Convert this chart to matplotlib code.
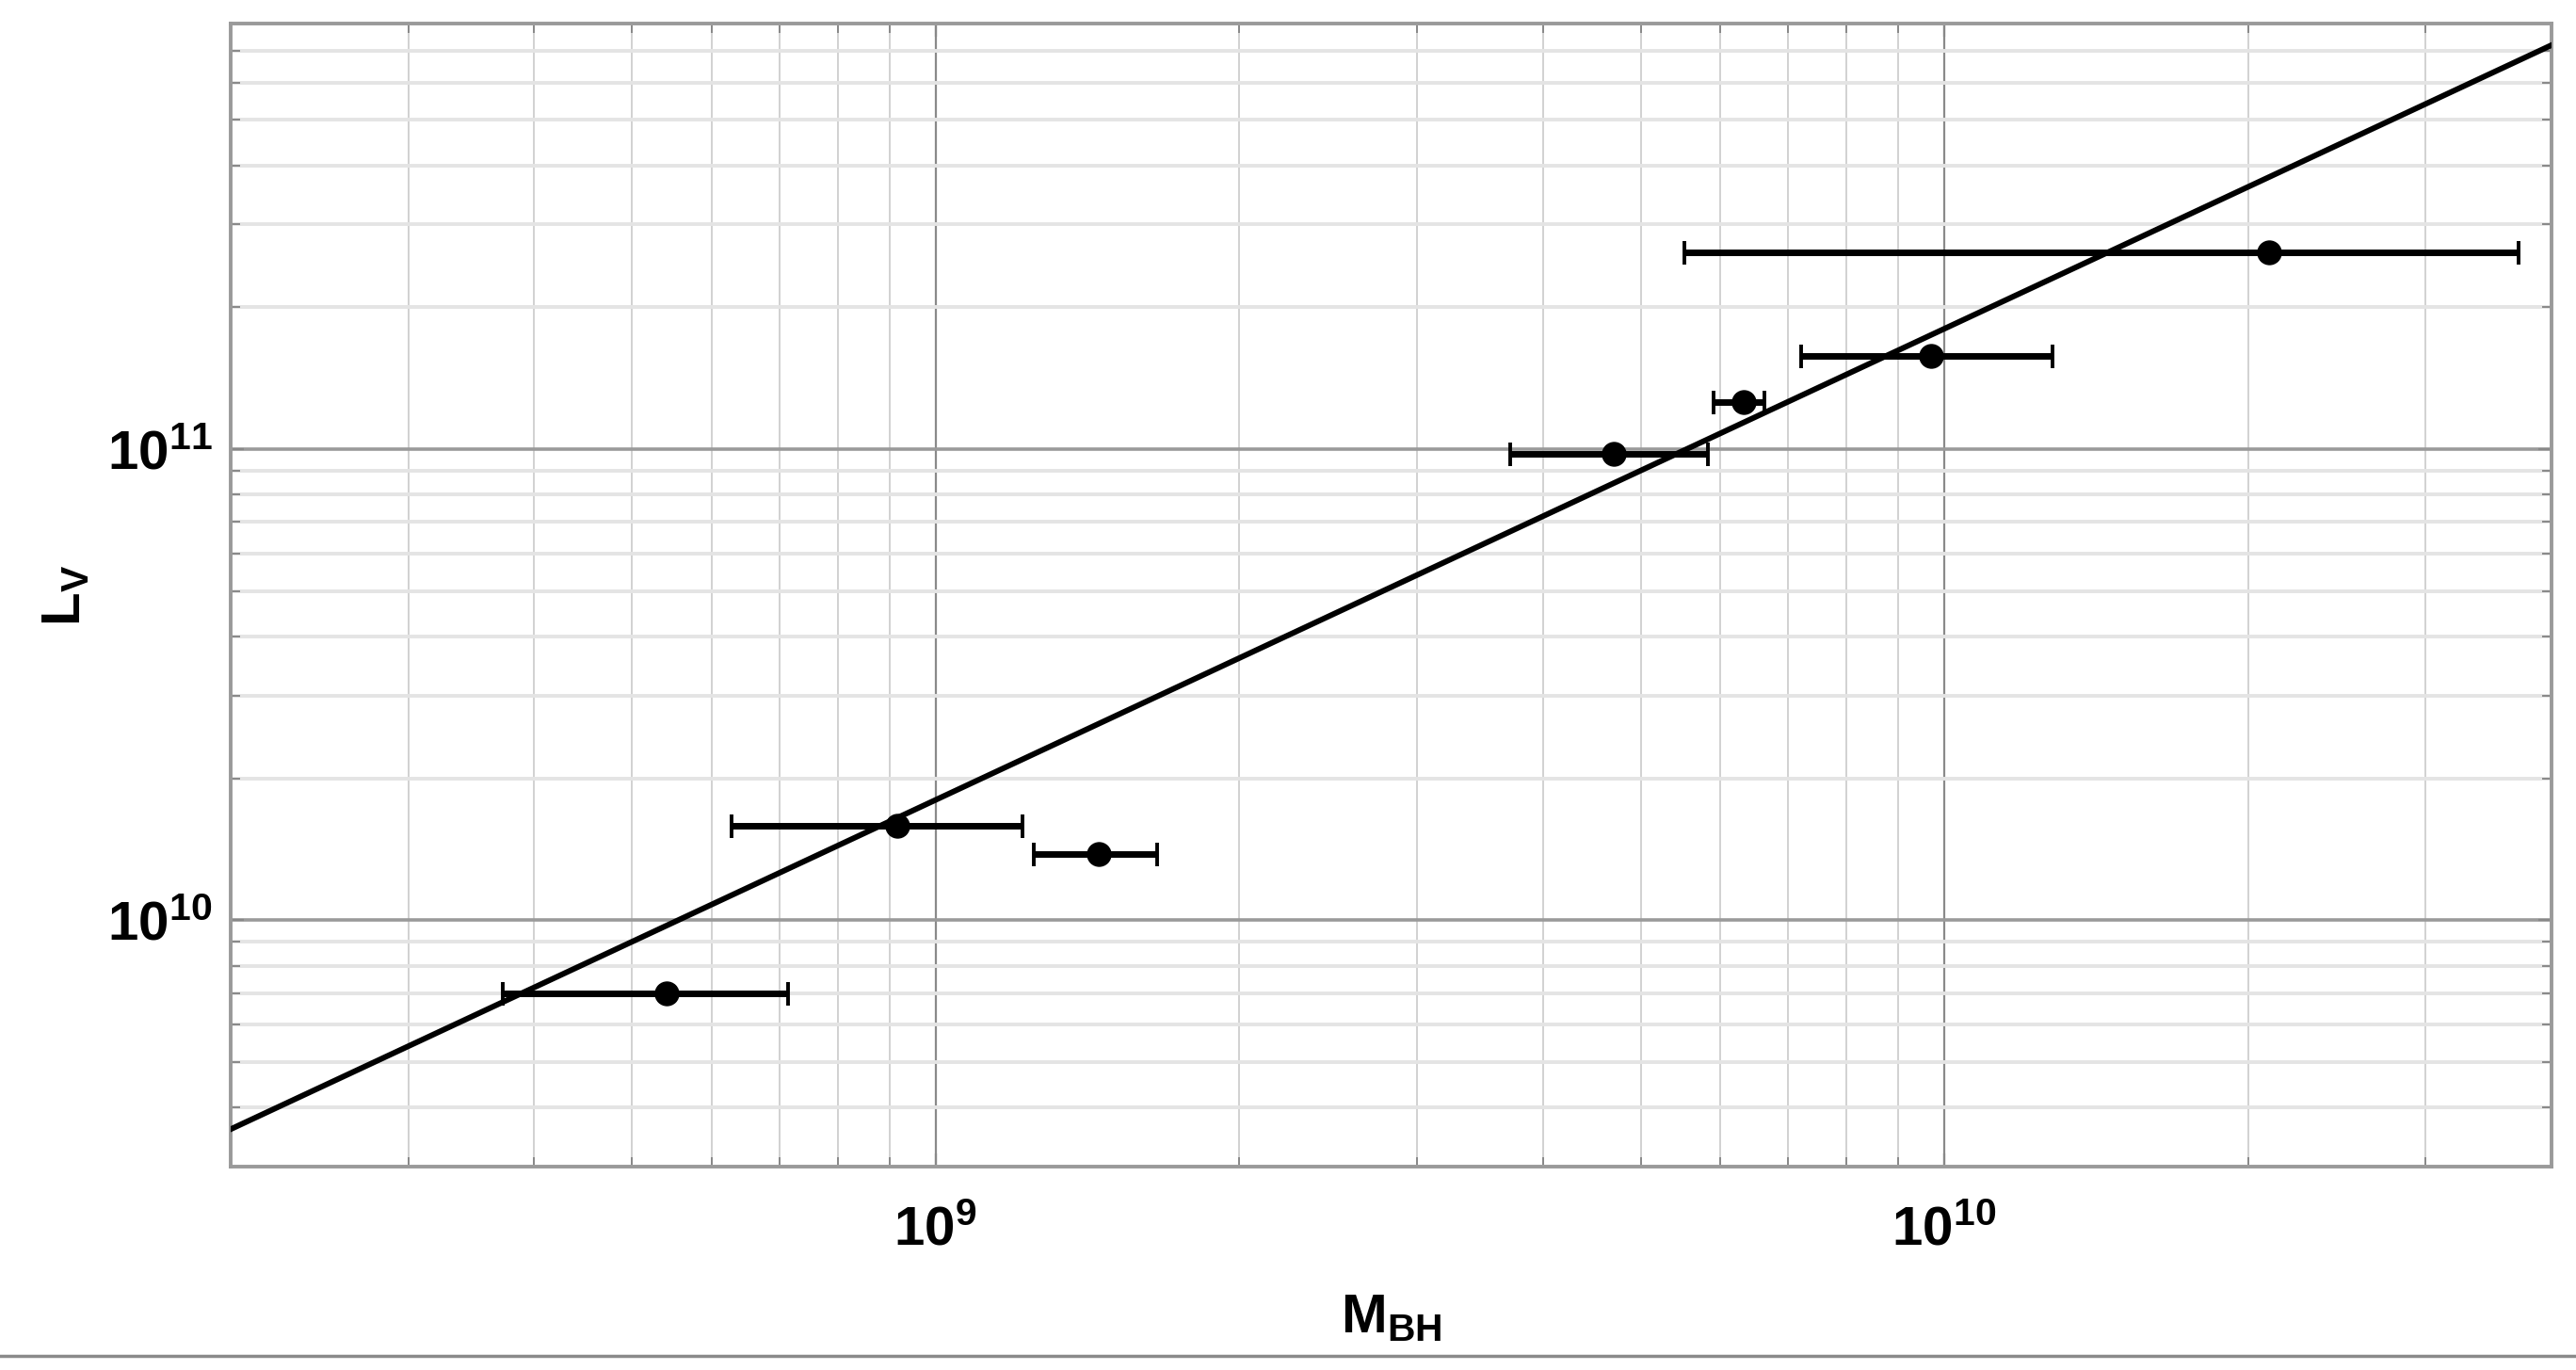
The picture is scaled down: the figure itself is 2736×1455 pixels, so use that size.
import numpy as np
import matplotlib
matplotlib.use("Agg")
import matplotlib.pyplot as plt
from matplotlib.ticker import FixedLocator, FixedFormatter, LogLocator, NullFormatter
from matplotlib.lines import Line2D

# black hole mass vs V-band luminosity
m_bh = [5.41e8, 9.17e8, 1.45e9, 4.70e9, 6.32e9, 9.70e9, 2.10e10]
m_lo = [3.72e8, 6.28e8, 1.25e9, 3.71e9, 5.90e9, 7.21e9, 5.52e9]
m_hi = [7.14e8, 1.22e9, 1.66e9, 5.83e9, 6.63e9, 1.28e10, 3.71e10]
l_v = [7.0e9, 1.59e10, 1.38e10, 9.76e10, 1.256e11, 1.58e11, 2.62e11]

# fitted relation, end points
fit_m = [2e8, 4e10]
fit_l = [3.6e9, 7.2e11]

x_ticks = [1e9, 1e10]
x_ticklabels = [r'$\mathregular{10^{9}}$', r'$\mathregular{10^{10}}$']
y_ticks = [1e10, 1e11]
y_ticklabels = [r'$\mathregular{10^{10}}$', r'$\mathregular{10^{11}}$']

plt.rcParams['font.family'] = ['Liberation Sans', 'DejaVu Sans']
plt.rcParams['font.weight'] = 'bold'
plt.rcParams['axes.labelweight'] = 'bold'
plt.rcParams['mathtext.fontset'] = 'custom'
plt.rcParams['mathtext.rm'] = 'Liberation Sans:bold'
plt.rcParams['mathtext.it'] = 'Liberation Sans:bold'
plt.rcParams['mathtext.bf'] = 'Liberation Sans:bold'

fig = plt.figure(figsize=(27.36, 14.55), dpi=100)
ax = fig.add_axes([0.0895, 0.1485, 0.9010, 0.8343])
ax.set_xscale('log')
ax.set_yscale('log')
ax.set_xlim(2e8, 4e10)
ax.set_ylim(3e9, 8e11)

m = np.array(m_bh)
xerr = [m - np.array(m_lo), np.array(m_hi) - m]
ax.errorbar(m_bh, l_v, xerr=xerr, fmt='o', color='black', ms=18,
            elinewidth=5, capsize=9, capthick=2.8, zorder=4)
ax.plot(fit_m, fit_l, color='black', lw=4.3, zorder=3)

# grid
ax.xaxis.set_major_locator(FixedLocator(x_ticks))
ax.xaxis.set_major_formatter(FixedFormatter(x_ticklabels))
ax.yaxis.set_major_locator(FixedLocator(y_ticks))
ax.yaxis.set_major_formatter(FixedFormatter(y_ticklabels))
ax.xaxis.set_minor_locator(LogLocator(base=10, subs=np.arange(2, 10)))
ax.yaxis.set_minor_locator(LogLocator(base=10, subs=np.arange(2, 10)))
ax.xaxis.set_minor_formatter(NullFormatter())
ax.yaxis.set_minor_formatter(NullFormatter())

ax.xaxis.grid(True, which='major', color='#8a8a8a', lw=1.6, zorder=0)
ax.xaxis.grid(True, which='minor', color='#cacaca', lw=1.2, zorder=0)
ax.yaxis.grid(True, which='major', color='#9a9a9a', lw=2.6, zorder=0)
ax.yaxis.grid(True, which='minor', color='#e4e4e4', lw=2.8, zorder=0)
ax.set_axisbelow(True)

for s in ax.spines.values():
    s.set_color('#9a9a9a')
    s.set_linewidth(2.8)

ax.tick_params(which='both', direction='in', top=True, right=True,
               color='#888888', labelsize=42)
ax.tick_params(which='major', length=10, width=1.6)
ax.tick_params(which='minor', length=7, width=1.4)
ax.tick_params(axis='x', pad=30)
ax.tick_params(axis='y', pad=14)

ax.set_xlabel(r'$\mathregular{M_{BH}}$', fontsize=42, labelpad=28)
ax.set_ylabel(r'$\mathregular{L_{V}}$', fontsize=42, labelpad=12)

# bottom border line of the figure
fig.add_artist(Line2D([0, 1], [0.0103, 0.0103], transform=fig.transFigure,
                      color='#8a8a8a', lw=2.5))

fig.savefig('out.png', dpi=100, facecolor='white')
